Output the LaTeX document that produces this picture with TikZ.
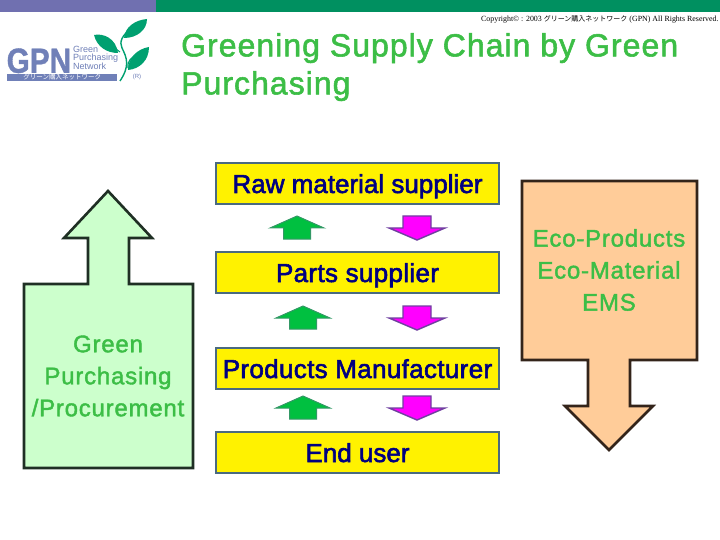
\documentclass[tikz,border=0pt]{standalone}
\usepackage{fontspec}
\setmainfont{Liberation Sans}
\newfontfamily\cjkfont{Noto Sans CJK JP}
\newfontfamily\serifcr{Liberation Serif}
\newfontfamily\fatfont[FakeBold=2.2]{Liberation Sans}
\newfontfamily\fatwide[FakeBold=2.2,LetterSpace=1.3]{Liberation Sans}
\newfontfamily\logofont[FakeBold=1,FakeStretch=0.85]{Liberation Sans Bold}
\newfontfamily\greenfont[FakeBold=1.7,LetterSpace=3.2]{Liberation Sans}
\definecolor{txtgreen}{HTML}{3CBE46}
\definecolor{barpurple}{HTML}{7070B0}
\definecolor{bargreen}{HTML}{009060}
\definecolor{logoblue}{HTML}{7080B8}
\definecolor{leafgreen}{HTML}{00A070}
\definecolor{boxedge}{HTML}{4A6A80}
\definecolor{pale}{HTML}{CCFFCC}
\definecolor{peach}{HTML}{FFCC99}
\definecolor{arrowgreen}{HTML}{00C040}
\definecolor{arrowedge}{HTML}{339966}
\definecolor{mag}{HTML}{FF00FF}
\definecolor{magedge}{HTML}{7040A0}
\definecolor{navytxt}{HTML}{000080}
\definecolor{edgeA}{HTML}{1F2F24}
\definecolor{edgeB}{HTML}{33241A}
\tikzset{
  chainbox/.style={draw=boxedge,line width=2.4pt,fill=yellow,minimum width=283pt,minimum height=41pt,inner sep=0pt,
    text=navytxt,text height=24pt,text depth=5pt,font=\fatfont\fontsize{26}{30}\selectfont},
  bigarrowA/.style={draw=edgeA,line width=2.6pt,fill=pale,line join=miter},
  bigarrowB/.style={draw=edgeB,line width=2.6pt,fill=peach,line join=miter},
  uparrow/.style={draw=arrowedge,line width=1pt,fill=arrowgreen},
  downarrow/.style={draw=magedge,line width=1.4pt,fill=mag},
  greentxt/.style={text=txtgreen,align=center,inner sep=0pt},
  leaf/.style={fill=leafgreen,draw=none}
}
\newcommand{\uparr}[2]{%
  \draw[uparrow] (#1,#2) -- +(27,12) -- +(13.5,12) -- +(13.5,23) -- +(-13.5,23) -- +(-13.5,12) -- +(-27,12) -- cycle;}
\newcommand{\downarr}[2]{%
  \draw[downarrow] (#1-14,#2) -- (#1+14,#2) -- (#1+14,#2+12) -- (#1+28,#2+12) -- (#1,#2+24) -- (#1-28,#2+12) -- (#1-14,#2+12) -- cycle;}
\begin{document}
\begin{tikzpicture}[x=1pt,y=-1pt]
\useasboundingbox (0,0) rectangle (720,540);
\fill[white] (0,0) rectangle (720,540);
% top bars
\fill[barpurple] (0,0) rectangle (156,12);
\fill[bargreen] (156,0) rectangle (720,12);
% copyright
\node[anchor=west,inner sep=0pt,font=\serifcr\fontsize{7.9}{8}\selectfont] (copy) at (481,19)
  {Copyright© : 2003 {\cjkfont\fontsize{7}{8}\selectfont グリーン購入ネットワーク} (GPN) All Rights Reserved.};
% logo
\node[anchor=south west,inner sep=0pt,text=logoblue,text height=25pt,text depth=0pt,font=\logofont\fontsize{35}{35}\selectfont] (gpn) at (6.5,73) {GPN};
\node[anchor=north west,inner sep=0pt,text=logoblue,align=left,font=\fontsize{9}{8.5}\selectfont] (gpntext) at (73,46) {Green\\Purchasing\\Network};
\node[anchor=west,fill=logoblue,text=white,minimum width=110pt,minimum height=7pt,text height=5pt,text depth=1pt,inner sep=0pt,font=\cjkfont\fontsize{6.5}{7}\selectfont] (banner) at (7,77.5) {グリーン購入ネットワーク};
\node[inner sep=0pt,text=logoblue,font=\fontsize{6}{6}\selectfont] (reg) at (137,77) {(R)};
\draw[leafgreen,line width=1.4pt] (120,81) .. controls (130,66) and (127,58) .. (122,48) .. controls (119,42) and (122,35) .. (132,28);
\draw[leafgreen,line width=1.2pt] (128,68) .. controls (127,60) and (132,58) .. (136,55);
\draw[leafgreen,line width=1pt] (120,52) -- (112,46);
\path[leaf] (94,35) .. controls (103,33) and (116,38) .. (118,53) .. controls (107,53) and (97,47) .. (94,35) -- cycle;
\path[leaf] (124,38) .. controls (125,27) and (135,20) .. (147,19) .. controls (147,30) and (137,38) .. (124,38) -- cycle;
\path[leaf] (128,70) .. controls (128,58) and (137,49) .. (149,47) .. controls (149,60) and (140,69) .. (128,70) -- cycle;
% title
\node[anchor=north west,greentxt,align=left,font=\greenfont\fontsize{32}{38}\selectfont] (title) at (181,33) {Greening Supply Chain by Green\\Purchasing};
% big arrows
\draw[bigarrowA] (108,191) -- (152,238) -- (129,238) -- (129,284) -- (193,284) -- (193,468) -- (24,468) -- (24,284) -- (88,284) -- (88,238) -- (64,238) -- cycle;
\draw[bigarrowB] (522,181) -- (697,181) -- (697,360) -- (630,360) -- (630,406) -- (653,406) -- (609,450) -- (565,406) -- (588,406) -- (588,360) -- (522,360) -- cycle;
\node[greentxt,font=\greenfont\fontsize{24}{32}\selectfont] (gp) at (108,376) {Green\\Purchasing\\/Procurement};
\node[greentxt,font=\greenfont\fontsize{24}{32}\selectfont] (eco) at (609,270) {Eco-Products\\Eco-Material\\EMS};
% chain
\node[chainbox] (raw) at (357.5,183.5) {Raw material supplier};
\node[chainbox] (parts) at (357.5,272.5) {\fatwide Parts supplier};
\node[chainbox] (prod) at (357.5,368.5) {\fatwide Products Manufacturer};
\node[chainbox] (end) at (357.5,452.5) {End user};
\uparr{297}{216}
\uparr{303}{306}
\uparr{303}{396}
\downarr{417}{216}
\downarr{417}{306}
\downarr{417}{396}
\end{tikzpicture}
\end{document}
